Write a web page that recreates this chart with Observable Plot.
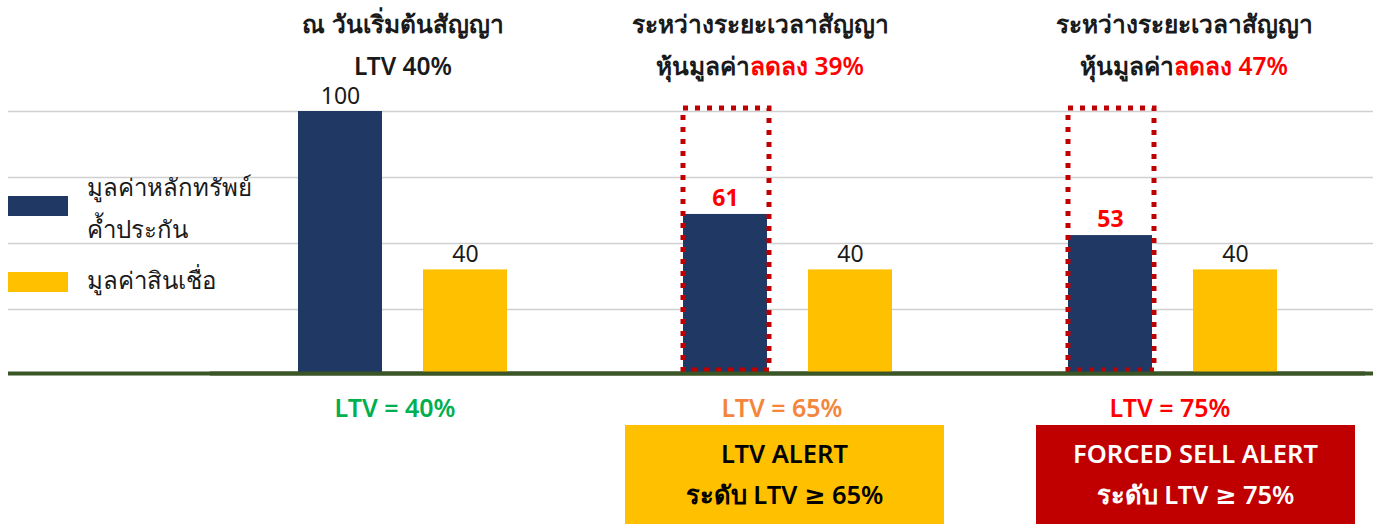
<!DOCTYPE html>
<html>
<head>
<meta charset="utf-8">
<script src="https://cdn.jsdelivr.net/npm/d3@7"></script>
<script src="https://cdn.jsdelivr.net/npm/@observablehq/plot@0.6"></script>
<style>
  html, body { margin: 0; padding: 0; background: #fff; }
  body { font-family: "Noto Sans", "DejaVu Sans", sans-serif; color: #1a1a1a; }
  #wrap { position: relative; width: 1377px; height: 524px; overflow: hidden; }
  #wrap svg { position: absolute; left: 0; top: 0; }
  .abs { position: absolute; white-space: nowrap; }
  .title { font-size: 24.5px; font-weight: 600; transform: translateX(-50%); text-align: center; line-height: 42px; }
  .red { color: #ff0000; }
  .ltv { font-size: 25px; font-weight: 600; transform: translateX(-50%); }
  .box { width: 319px; height: 99px; top: 425px; text-align: center; font-size: 25.5px; font-weight: 600; line-height: 41px; padding-top: 8px; box-sizing: border-box; }
  .sw { width: 60px; height: 20px; left: 8px; }
  .leg { font-size: 24px; left: 87px; line-height: 42px; }
</style>
</head>
<body>
<div id="wrap"></div>
<script>
// ---- data ----
const groups = ["ณ วันเริ่มต้นสัญญา", "ลดลง 39%", "ลดลง 47%"];
const series = ["มูลค่าหลักทรัพย์ค้ำประกัน", "มูลค่าสินเชื่อ"];
const collateralValues = [100, 61, 53];
const loanValues = [40, 40, 40];
const originalCollateral = [null, 100, 100];   // dotted box = value before the drop
const yTicks = [0, 25, 50, 75, 100];
const titleLine1 = ["ณ วันเริ่มต้นสัญญา", "ระหว่างระยะเวลาสัญญา", "ระหว่างระยะเวลาสัญญา"];
const titleLine2Black = ["LTV 40%", "หุ้นมูลค่า", "หุ้นมูลค่า"];
const titleLine2Red = ["", "ลดลง 39%", "ลดลง 47%"];
const ltvLabels = ["LTV = 40%", "LTV = 65%", "LTV = 75%"];
const ltvColors = ["#00b050", "#f4863b", "#ff0000"];
const alertLine1 = [null, "LTV ALERT", "FORCED SELL ALERT"];
const alertLine2 = [null, "ระดับ LTV ≥ 65%", "ระดับ LTV ≥ 75%"];
const seriesColors = ["#203864", "#ffc000"];

// ---- tables ----
const bars = [];
groups.forEach((g, i) => {
  bars.push({group: g, series: series[0], value: collateralValues[i], dropped: i > 0});
  bars.push({group: g, series: series[1], value: loanValues[i], dropped: false});
});
const boxes = groups.map((g, i) => ({group: g, series: series[0], value: originalCollateral[i]}))
  .filter(d => d.value != null);

const W = 1377, H = 524, MT = 111, MB = 149;
const wrap = document.getElementById("wrap");

// bottom layer: gridlines + full-width baseline
const back = Plot.plot({
  width: W, height: H, marginLeft: 8, marginRight: 4, marginTop: MT, marginBottom: MB,
  y: {domain: [0, 100], axis: null},
  style: {background: "transparent"},
  marks: [
    Plot.ruleY(yTicks.filter(t => t > 0), {stroke: "#d0d0d0", strokeWidth: 1.5}),
    Plot.ruleY([0], {stroke: "#3a5526", strokeWidth: 4, dy: -2})
  ]
});
wrap.appendChild(back);

// top layer: faceted bars
const font = "Noto Sans, DejaVu Sans, sans-serif";
const front = Plot.plot({
  width: W, height: H, marginLeft: 209, marginRight: 11, marginTop: MT, marginBottom: MB,
  fx: {domain: groups, padding: 0, axis: null},
  x: {domain: series, paddingInner: 0.33, paddingOuter: 0.7, axis: null},
  y: {domain: [0, 100], axis: null},
  color: {domain: series, range: seriesColors},
  style: {background: "transparent", overflow: "visible"},
  marks: [
    Plot.barY(bars, {fx: "group", x: "series", y: "value", fill: "series"}),
    Plot.barY(boxes, {fx: "group", x: "series", y: "value", fill: "none", stroke: "#c00000",
      strokeWidth: 5, strokeDasharray: "5,7", insetTop: -3, insetBottom: 5, insetRight: -2}),
    Plot.text(bars.filter(d => !d.dropped), {fx: "group", x: "series", y: "value", text: d => String(d.value),
      dy: -15, fill: "#1a1a1a", fontSize: 23, fontFamily: font}),
    Plot.text(bars.filter(d => d.dropped), {fx: "group", x: "series", y: "value", text: d => String(d.value),
      dy: -16, fill: "#ff0000", fontWeight: 700, fontSize: 23, fontFamily: font}),
    Plot.ruleY([0], {stroke: "#3a5526", strokeWidth: 4, dy: -2})
  ]
});
wrap.appendChild(front);

// ---- html text layers ----
const titleCenters = [403, 760, 1184];
const ltvCenters = [395, 782, 1170];
const boxLefts = [null, 625, 1036];
const boxFill = [null, "#ffc000", "#c00000"];
const boxText = [null, "#000", "#fff"];

groups.forEach((g, i) => {
  const t = document.createElement("div");
  t.className = "abs title";
  t.style.left = titleCenters[i] + "px";
  t.style.top = "3px";
  t.innerHTML = `<div>${titleLine1[i]}</div><div>${titleLine2Black[i]}<span class="red">${titleLine2Red[i]}</span></div>`;
  wrap.appendChild(t);

  const l = document.createElement("div");
  l.className = "abs ltv";
  l.style.left = ltvCenters[i] + "px";
  l.style.top = "390px";
  l.style.color = ltvColors[i];
  l.textContent = ltvLabels[i];
  wrap.appendChild(l);

  if (alertLine1[i]) {
    const b = document.createElement("div");
    b.className = "abs box";
    b.style.left = boxLefts[i] + "px";
    b.style.background = boxFill[i];
    b.style.color = boxText[i];
    b.innerHTML = `<div>${alertLine1[i]}</div><div>${alertLine2[i]}</div>`;
    wrap.appendChild(b);
  }
});

// legend
const legendRows = [
  {color: seriesColors[0], top: 196, textTop: 166, html: "มูลค่าหลักทรัพย์<br>ค้ำประกัน"},
  {color: seriesColors[1], top: 272, textTop: 259, html: series[1]}
];
legendRows.forEach(r => {
  const s = document.createElement("div");
  s.className = "abs sw";
  s.style.top = r.top + "px";
  s.style.background = r.color;
  wrap.appendChild(s);
  const t = document.createElement("div");
  t.className = "abs leg";
  t.style.top = r.textTop + "px";
  t.innerHTML = r.html;
  wrap.appendChild(t);
});
</script>
</body>
</html>
